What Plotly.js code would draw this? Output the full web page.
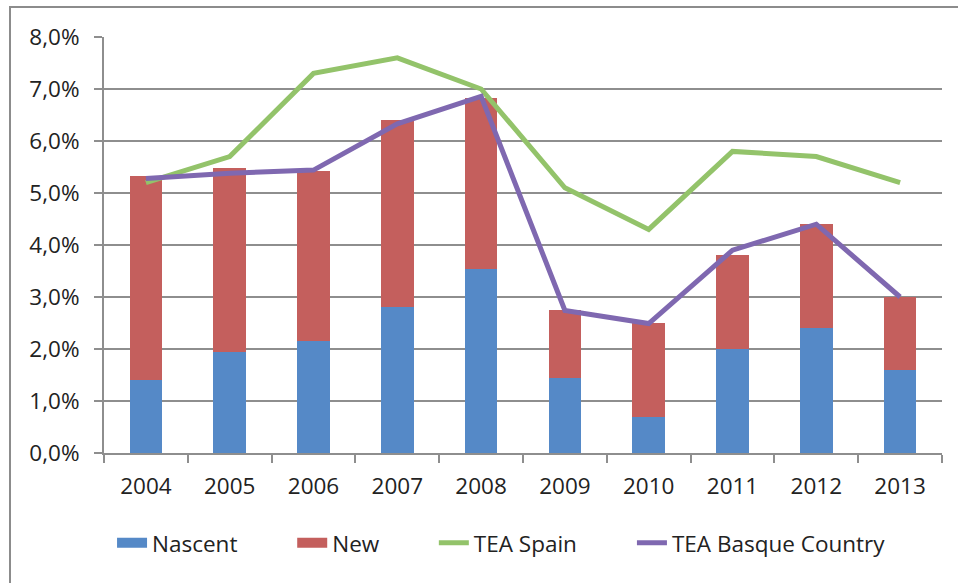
<!DOCTYPE html>
<html>
<head>
<meta charset="utf-8">
<script src="https://cdn.plot.ly/plotly-3.0.1.min.js"></script>
<style>
html,body{margin:0;padding:0;background:#fff;}
#wrap{position:relative;width:958px;height:583px;overflow:hidden;}
#chart{width:958px;height:583px;}
#frame{position:absolute;left:9px;top:6px;width:1000px;height:700px;border-top:2px solid #8c8c8c;border-left:2px solid #8c8c8c;pointer-events:none;}
</style>
</head>
<body>
<div id="wrap"><div id="chart"></div><div id="frame"></div></div>
<script>
const years = ['2004','2005','2006','2007','2008','2009','2010','2011','2012','2013'];
const nascent = [1.4, 1.95, 2.15, 2.8, 3.53, 1.45, 0.7, 2.0, 2.4, 1.6];
const newBiz = [3.92, 3.53, 3.28, 3.6, 3.3, 1.3, 1.8, 1.8, 2.0, 1.4];
const teaSpain = [5.2, 5.7, 7.3, 7.6, 7.0, 5.1, 4.3, 5.8, 5.7, 5.2];
const teaBasque = [5.28, 5.38, 5.44, 6.33, 6.86, 2.74, 2.49, 3.9, 4.4, 3.0];
const yTicks = [0,1,2,3,4,5,6,7,8];
const yTickText = yTicks.map(v => v.toFixed(1).replace('.', ',') + '%');

const font = {family: '"Open Sans", "Noto Sans", sans-serif', size: 22.5, color: '#222'};
const gridColor = '#8e8e8e';
const blue = '#5589C7', red = '#C45F5D', green = '#93C36A', purple = '#7F68B0';

const traces = [
  {type:'bar', name:'Nascent', x:years, y:nascent, marker:{color:blue}, showlegend:false},
  {type:'bar', name:'New', x:years, y:newBiz, marker:{color:red}, showlegend:false},
  {type:'scatter', mode:'lines', name:'Nascent', x:[years[0]], y:[null], line:{color:blue, width:13}, legend:'legend'},
  {type:'scatter', mode:'lines', name:'New', x:[years[0]], y:[null], line:{color:red, width:13}, legend:'legend2'},
  {type:'scatter', mode:'lines', name:'TEA Spain', x:years, y:teaSpain, line:{color:green, width:5}, legend:'legend3'},
  {type:'scatter', mode:'lines', name:'TEA Basque Country', x:years, y:teaBasque, line:{color:purple, width:5}, legend:'legend4'}
];

function leg(x){
  return {orientation:'h', x:x, xanchor:'left', y:-0.165, yanchor:'top', font:font, bgcolor:'rgba(0,0,0,0)'};
}

const layout = {
  width:958, height:583,
  margin:{l:104, r:16, t:37, b:130},
  paper_bgcolor:'#fff', plot_bgcolor:'#fff',
  barmode:'stack', bargap:0.61,
  font:font,
  showlegend:true,
  legend:leg(0.0096), legend2:leg(0.2246), legend3:leg(0.3936), legend4:leg(0.630),
  xaxis:{type:'category', tickson:'boundaries', ticks:'outside', ticklen:8, tickwidth:2, tickcolor:gridColor,
         showline:true, linecolor:gridColor, linewidth:2, showgrid:false, ticklabelstandoff:12, tickfont:font, fixedrange:true},
  yaxis:{range:[0,8], tickmode:'array', tickvals:yTicks, ticktext:yTickText, ticks:'outside', ticklen:8, tickwidth:2, tickcolor:gridColor,
         showline:true, linecolor:gridColor, linewidth:2, showgrid:true, gridcolor:gridColor, gridwidth:2, zeroline:false,
         ticklabelstandoff:10, tickfont:font, fixedrange:true}
};

Plotly.newPlot('chart', traces, layout, {staticPlot:true, displayModeBar:false});
</script>
</body>
</html>
